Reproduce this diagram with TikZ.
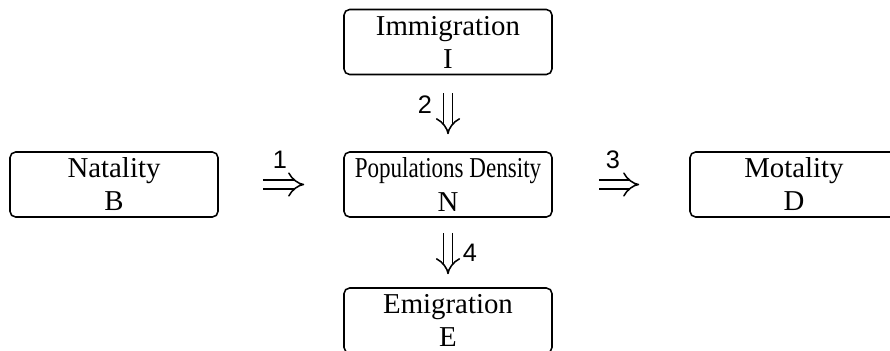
\documentclass[tikz,border=0pt]{standalone}
\usepackage{fontspec}
\setmainfont{Liberation Serif}
\newfontfamily\numfont{Liberation Sans}
\usetikzlibrary{arrows.meta,positioning}
\tikzset{
  pbox/.style={draw, line width=1.1pt, rounded corners=4pt, minimum width=5.2cm,
      minimum height=1.625cm, inner sep=0pt, align=center,
      font=\fontsize{20.5}{23.5}\selectfont},
  dbl/.style={double, double distance=5pt, line width=1.1pt, -{Implies}},
  num/.style={font=\numfont\fontsize{18}{18}\selectfont},
}
\begin{document}
\begin{tikzpicture}
  \useasboundingbox (0,0) rectangle (22.25,-8.775);
  \clip (0,0) rectangle (22.25,-8.775);
  \node[pbox] (imm) at (11.2,-1.05) {Immigration\\I};
  \node[pbox] (pop) at (11.2,-4.6125) {\scalebox{0.8}[1]{Populations Density}\\N};
  \node[pbox] (nat) at (2.85,-4.6125) {Natality\\B};
  \node[pbox] (mot) at (19.85,-4.6125) {Motality\\D};
  \node[pbox] (emi) at (11.2,-8.0125) {Emigration\\E};
  \draw[dbl, shorten <=1.1cm, shorten >=0.975cm] (nat) -- (pop);
  \draw[dbl, shorten <=1.15cm, shorten >=1.25cm] (pop) -- (mot);
  \draw[dbl, shorten <=0.45cm, shorten >=0.425cm] (imm) -- (pop);
  \draw[dbl, shorten <=0.375cm, shorten >=0.325cm] (pop) -- (emi);
  \node[num] (n1) at (7.0,-4.0) {1};
  \node[num] (n2) at (10.62,-2.62) {2};
  \node[num] (n3) at (15.32,-4.0) {3};
  \node[num] (n4) at (11.75,-6.32) {4};
\end{tikzpicture}
\end{document}
